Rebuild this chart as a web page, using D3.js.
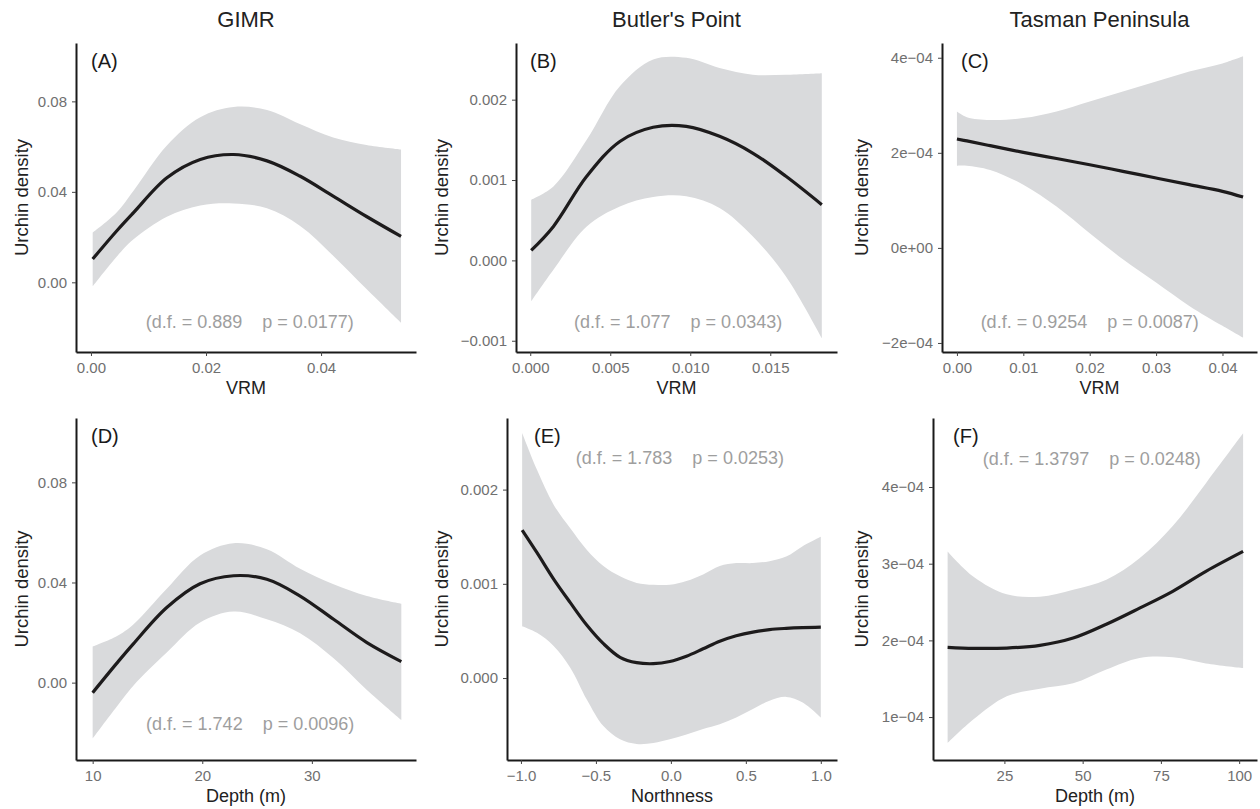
<!DOCTYPE html>
<html>
<head>
<meta charset="utf-8">
<script src="https://cdn.jsdelivr.net/npm/d3@7"></script>
<style>
  body { margin: 0; background: #fff; }
  svg { display: block; font-family: "Liberation Sans", Arial, sans-serif; }
</style>
</head>
<body>
<div id="chart"></div>
<script>
// column titles, panel letters and axis labels
const siteTitles = ["GIMR", "Butler's Point", "Tasman Peninsula"];
const panelLetters = ["(A)", "(B)", "(C)", "(D)", "(E)", "(F)"];
const xTitles = ["VRM", "VRM", "VRM", "Depth (m)", "Northness", "Depth (m)"];
const dfValues = ["0.889", "1.077", "0.9254", "1.742", "1.783", "1.3797"];
const pValues = ["0.0177", "0.0343", "0.0087", "0.0096", "0.0253", "0.0248"];

// (A) GIMR ~ VRM
const gimrVrmX   = [0.0003, 0.0045, 0.0074, 0.0132, 0.0190, 0.0248, 0.0306, 0.0363, 0.0421, 0.0479, 0.0539];
const gimrVrmFit = [0.0103, 0.0228, 0.0308, 0.0462, 0.0543, 0.0565, 0.0537, 0.0470, 0.0381, 0.0291, 0.0203];
const gimrVrmLo  = [-0.0018, 0.0114, 0.0190, 0.0290, 0.0340, 0.0349, 0.0327, 0.0250, 0.0118, -0.0030, -0.0179];
const gimrVrmHi  = [0.0220, 0.0310, 0.0405, 0.0605, 0.0730, 0.0775, 0.0762, 0.0700, 0.0640, 0.0607, 0.0587];

// (B) Butler's Point ~ VRM
const butlerVrmX   = [0.00006, 0.00145, 0.00353, 0.0056, 0.00768, 0.00975, 0.01183, 0.0139, 0.01598, 0.01822];
const butlerVrmFit = [0.000124, 0.000423, 0.001046, 0.00148, 0.001656, 0.001668, 0.001544, 0.001336, 0.001046, 0.000693];
const butlerVrmLo  = [-0.00051, -0.000116, 0.000423, 0.000672, 0.000788, 0.000797, 0.000651, 0.000299, -0.000199, -0.000967];
const butlerVrmHi  = [0.000755, 0.00092, 0.0015, 0.002166, 0.0025, 0.00252, 0.002394, 0.00231, 0.00231, 0.00233];

// (C) Tasman Peninsula ~ VRM
const tasmanVrmX   = [0, 0.0015, 0.005, 0.01, 0.015, 0.02, 0.025, 0.03, 0.035, 0.04, 0.0431];
const tasmanVrmFit = [2.29e-4, 2.25e-4, 2.15e-4, 2.01e-4, 1.88e-4, 1.75e-4, 1.61e-4, 1.47e-4, 1.33e-4, 1.19e-4, 1.07e-4];
const tasmanVrmLo  = [1.73e-4, 1.73e-4, 1.64e-4, 1.33e-4, 0.87e-4, 0.31e-4, -0.24e-4, -0.73e-4, -1.22e-4, -1.64e-4, -1.89e-4];
const tasmanVrmHi  = [2.87e-4, 2.75e-4, 2.69e-4, 2.73e-4, 2.87e-4, 3.08e-4, 3.29e-4, 3.50e-4, 3.71e-4, 3.88e-4, 4.03e-4];

// (D) GIMR ~ Depth
const gimrDepthX   = [10, 12.19, 13.71, 16.76, 19.8, 22.85, 25.89, 28.93, 31.98, 35.02, 38.16];
const gimrDepthFit = [-0.004, 0.0077, 0.0155, 0.0300, 0.0395, 0.0427, 0.0413, 0.0346, 0.0253, 0.0160, 0.0084];
const gimrDepthLo  = [-0.0223, -0.0096, -0.0012, 0.0120, 0.0240, 0.0284, 0.0253, 0.0197, 0.0097, -0.0029, -0.0149];
const gimrDepthHi  = [0.0144, 0.0185, 0.0232, 0.0375, 0.0508, 0.0557, 0.0533, 0.0455, 0.0393, 0.0346, 0.0315];

// (E) Butler's Point ~ Northness
const butlerNorthX   = [-0.992, -0.893, -0.782, -0.671, -0.56, -0.45, -0.339, -0.228, -0.117, -0.007, 0.104, 0.215, 0.326, 0.436, 0.547, 0.658, 0.769, 0.879, 1.0];
const butlerNorthFit = [0.00157, 0.00133, 0.00105, 0.0008, 0.00056, 0.000365, 0.00022, 0.000163, 0.000152, 0.000175, 0.000232, 0.000310, 0.000390, 0.000448, 0.000488, 0.000514, 0.000527, 0.000535, 0.00054];
const butlerNorthLo  = [0.00055, 0.00048, 0.00034, 0.00011, -0.00023, -0.00051, -0.00065, -0.0007, -0.00069, -0.00065, -0.0006, -0.00054, -0.00049, -0.00042, -0.00033, -0.00024, -0.0002, -0.00026, -0.00042];
const butlerNorthHi  = [0.0026, 0.00221, 0.00184, 0.00159, 0.00136, 0.00119, 0.00108, 0.00101, 0.00099, 0.00099, 0.00103, 0.0011, 0.00119, 0.00122, 0.00122, 0.00124, 0.00129, 0.0014, 0.0015];

// (F) Tasman Peninsula ~ Depth
const tasmanDepthX   = [6.86, 15.14, 25.74, 36.35, 46.96, 57.56, 68.17, 78.78, 89.38, 101.26];
const tasmanDepthFit = [1.909e-4, 1.896e-4, 1.9e-4, 1.935e-4, 2.03e-4, 2.21e-4, 2.42e-4, 2.64e-4, 2.9e-4, 3.16e-4];
const tasmanDepthLo  = [0.66e-4, 0.97e-4, 1.27e-4, 1.37e-4, 1.44e-4, 1.62e-4, 1.77e-4, 1.78e-4, 1.70e-4, 1.64e-4];
const tasmanDepthHi  = [3.16e-4, 2.83e-4, 2.6e-4, 2.57e-4, 2.66e-4, 2.79e-4, 3.07e-4, 3.49e-4, 4.05e-4, 4.7e-4];

// axis ticks
const xTicksA = [0, 0.02, 0.04],            xTickLabelsA = ["0.00", "0.02", "0.04"];
const yTicksA = [0, 0.04, 0.08],            yTickLabelsA = ["0.00", "0.04", "0.08"];
const xTicksB = [0, 0.005, 0.01, 0.015],    xTickLabelsB = ["0.000", "0.005", "0.010", "0.015"];
const yTicksB = [-0.001, 0, 0.001, 0.002],  yTickLabelsB = ["\u22120.001", "0.000", "0.001", "0.002"];
const xTicksC = [0, 0.01, 0.02, 0.03, 0.04], xTickLabelsC = ["0.00", "0.01", "0.02", "0.03", "0.04"];
const yTicksC = [-2e-4, 0, 2e-4, 4e-4],     yTickLabelsC = ["\u22122e\u221204", "0e+00", "2e\u221204", "4e\u221204"];
const xTicksD = [10, 20, 30],               xTickLabelsD = ["10", "20", "30"];
const yTicksD = [0, 0.04, 0.08],            yTickLabelsD = ["0.00", "0.04", "0.08"];
const xTicksE = [-1, -0.5, 0, 0.5, 1],      xTickLabelsE = ["\u22121.0", "\u22120.5", "0.0", "0.5", "1.0"];
const yTicksE = [0, 0.001, 0.002],          yTickLabelsE = ["0.000", "0.001", "0.002"];
const xTicksF = [25, 50, 75, 100],          xTickLabelsF = ["25", "50", "75", "100"];
const yTicksF = [1e-4, 2e-4, 3e-4, 4e-4],   yTickLabelsF = ["1e\u221204", "2e\u221204", "3e\u221204", "4e\u221204"];

// axis ranges
const xDomains = [[-0.0026, 0.0565], [-0.00089, 0.01917], [-0.00225, 0.0452], [8.48, 39.5], [-1.093, 1.108], [2.19, 105.7]];
const yDomains = [[-0.0308, 0.1058], [-0.00114, 0.002705], [-2.19e-4, 4.31e-4], [-0.0309, 0.1057], [-0.00087, 0.00276], [0.44e-4, 4.9e-4]];

const W = 1260, H = 809;
const svg = d3.select("#chart").append("svg").attr("width", W).attr("height", H);
svg.append("rect").attr("width", W).attr("height", H).attr("fill", "#fff");

// layout
const panels = [
  {col: 0, left: 76,  right: 416,  top: 43,  bottom: 352, x: gimrVrmX, fit: gimrVrmFit, lo: gimrVrmLo, hi: gimrVrmHi,
   xt: xTicksA, xl: xTickLabelsA, yt: yTicksA, yl: yTickLabelsA, letterDx: 15, stat: [0.0276, -0.0175]},
  {col: 1, left: 516, right: 837,  top: 43,  bottom: 352, x: butlerVrmX, fit: butlerVrmFit, lo: butlerVrmLo, hi: butlerVrmHi,
   xt: xTicksB, xl: xTickLabelsB, yt: yTicksB, yl: yTickLabelsB, letterDx: 14, stat: [0.00924, -0.000763]},
  {col: 2, left: 942, right: 1257, top: 43,  bottom: 352, x: tasmanVrmX, fit: tasmanVrmFit, lo: tasmanVrmLo, hi: tasmanVrmHi,
   xt: xTicksC, xl: xTickLabelsC, yt: yTicksC, yl: yTickLabelsC, letterDx: 19, stat: [0.02, -1.545e-4]},
  {col: 0, left: 76,  right: 416,  top: 418, bottom: 760, x: gimrDepthX, fit: gimrDepthFit, lo: gimrDepthLo, hi: gimrDepthHi,
   xt: xTicksD, xl: xTickLabelsD, yt: yTicksD, yl: yTickLabelsD, letterDx: 15, stat: [24.37, -0.0163]},
  {col: 1, left: 507, right: 837,  top: 418, bottom: 760, x: butlerNorthX, fit: butlerNorthFit, lo: butlerNorthLo, hi: butlerNorthHi,
   xt: xTicksE, xl: xTickLabelsE, yt: yTicksE, yl: yTickLabelsE, letterDx: 27, stat: [0.06, 0.002336]},
  {col: 2, left: 933, right: 1257, top: 418, bottom: 760, x: tasmanDepthX, fit: tasmanDepthFit, lo: tasmanDepthLo, hi: tasmanDepthHi,
   xt: xTicksF, xl: xTickLabelsF, yt: yTicksF, yl: yTickLabelsF, letterDx: 20, stat: [52.9, 4.365e-4]}
];

const smooth = d3.curveCatmullRom.alpha(0.5);

// column titles centred over top-row panels
siteTitles.forEach((t, i) => {
  const p = panels[i];
  svg.append("text")
    .attr("x", (p.left + p.right) / 2).attr("y", 27)
    .attr("text-anchor", "middle").attr("font-size", 22).attr("fill", "#222")
    .text(t);
});

panels.forEach((p, i) => {
  const xScale = d3.scaleLinear().domain(xDomains[i]).range([p.left, p.right]);
  const yScale = d3.scaleLinear().domain(yDomains[i]).range([p.bottom, p.top]);
  const rows = p.x.map((x, j) => ({x: x, fit: p.fit[j], lo: p.lo[j], hi: p.hi[j]}));

  const g = svg.append("g");

  // confidence band
  g.append("path").datum(rows)
    .attr("fill", "#d9dadc")
    .attr("d", d3.area().curve(smooth)
      .x(d => xScale(d.x)).y0(d => yScale(d.lo)).y1(d => yScale(d.hi)));

  // fitted smooth
  g.append("path").datum(rows)
    .attr("fill", "none").attr("stroke", "#1d1b1c").attr("stroke-width", 3.2)
    .attr("d", d3.line().curve(smooth).x(d => xScale(d.x)).y(d => yScale(d.fit)));

  // axes
  const xAxis = d3.axisBottom(xScale).tickValues(p.xt).tickFormat((d, k) => p.xl[k])
    .tickSize(4).tickSizeOuter(0).tickPadding(6);
  const yAxis = d3.axisLeft(yScale).tickValues(p.yt).tickFormat((d, k) => p.yl[k])
    .tickSize(4).tickSizeOuter(0).tickPadding(5);

  const gx = g.append("g").attr("transform", `translate(0,${p.bottom})`).call(xAxis);
  const gy = g.append("g").attr("transform", `translate(${p.left},0)`).call(yAxis);
  [gx, gy].forEach(a => {
    a.select(".domain").attr("stroke", "#1a1a1a").attr("stroke-width", 2);
    a.selectAll(".tick line").attr("stroke", "#444").attr("stroke-width", 1);
    a.selectAll(".tick text").attr("fill", "#707070").attr("font-size", 15)
      .attr("font-family", "Liberation Sans, Arial, sans-serif");
  });

  // axis titles
  g.append("text")
    .attr("x", (p.left + p.right) / 2).attr("y", p.bottom + 42)
    .attr("text-anchor", "middle").attr("font-size", 18).attr("fill", "#222")
    .text(xTitles[i]);
  g.append("text")
    .attr("transform", `translate(${p.col * 420 + 28},${(p.top + p.bottom) / 2}) rotate(-90)`)
    .attr("text-anchor", "middle").attr("font-size", 18.5).attr("fill", "#222")
    .text("Urchin density");

  // panel letter
  g.append("text")
    .attr("x", p.left + p.letterDx).attr("y", p.top + 18).attr("dy", "0.35em")
    .attr("font-size", 20).attr("fill", "#1a1a1a")
    .text(panelLetters[i]);

  // statistics annotation
  const st = g.append("text")
    .attr("x", xScale(p.stat[0])).attr("y", yScale(p.stat[1])).attr("dy", "0.35em")
    .attr("text-anchor", "middle").attr("font-size", 18).attr("fill", "#9e9e9e");
  st.append("tspan").text("(d.f. = " + dfValues[i]);
  st.append("tspan").attr("dx", 20).text("p = " + pValues[i] + ")");
});
</script>
</body>
</html>
